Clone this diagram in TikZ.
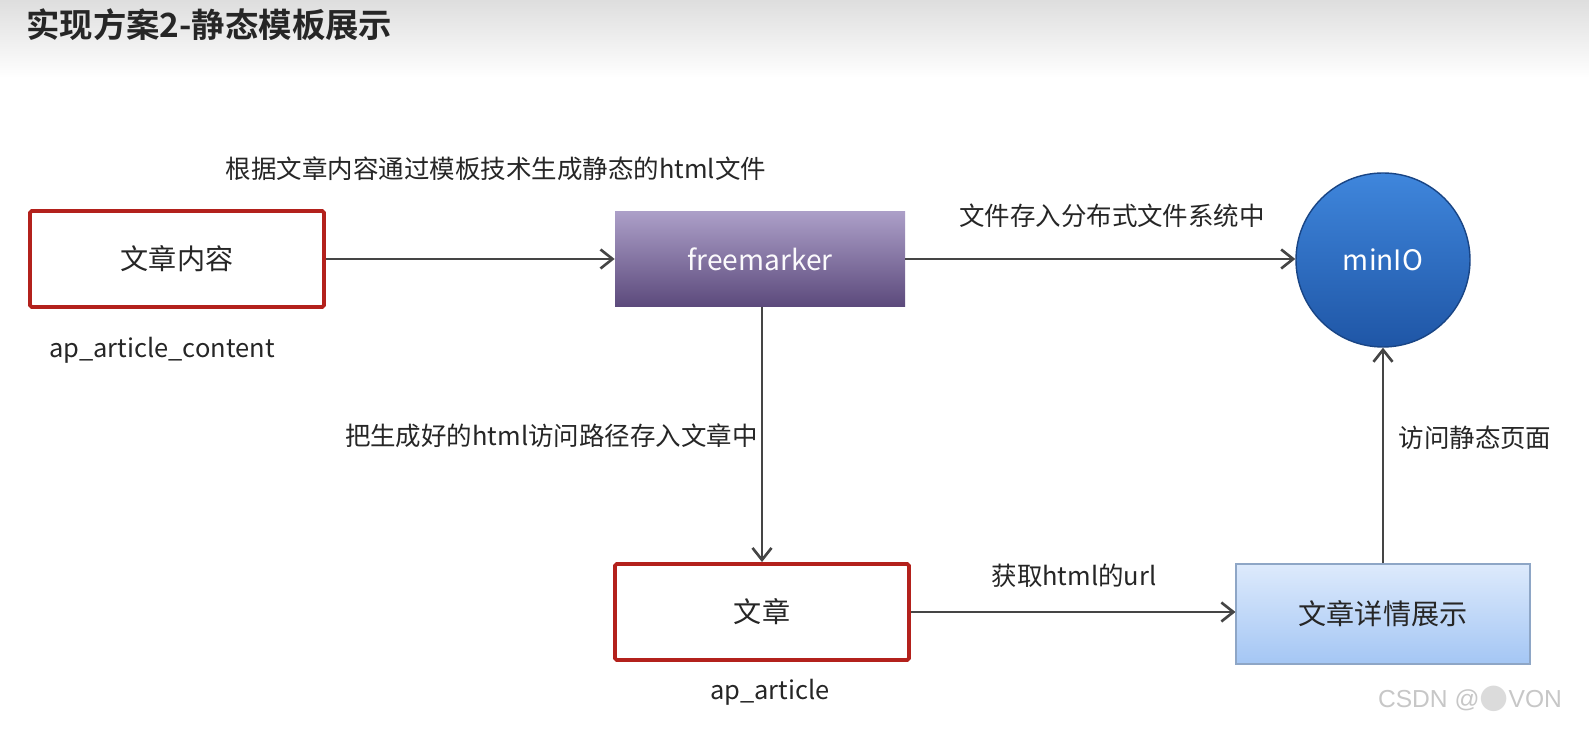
\documentclass[tikz,border=0pt]{standalone}
\usepackage{fontspec}
\setmainfont{Noto Sans CJK SC}[BoldFont={Noto Sans CJK SC Bold}]
\newfontfamily\markfont{Liberation Sans}
\newfontfamily\dotfont{DejaVu Sans}
\usetikzlibrary{arrows.meta}
\definecolor{BoxRed}{HTML}{B3211C}
\definecolor{LineGray}{HTML}{454545}
\definecolor{TextGray}{HTML}{262626}
\definecolor{MarkerTop}{HTML}{AC9FC8}
\definecolor{MarkerBottom}{HTML}{5C4A7C}
\definecolor{MinioTop}{HTML}{3F86DC}
\definecolor{MinioBottom}{HTML}{1F56A6}
\definecolor{ShowTop}{HTML}{DDEAFC}
\definecolor{ShowBottom}{HTML}{A4C6F4}
\definecolor{ShowEdge}{HTML}{8EA6C6}

\tikzset{
  tablebox/.style={draw=BoxRed, line width=2.2pt, rounded corners=1pt, fill=white,
    minimum width=58.8mm, minimum height=19.2mm, inner sep=0pt,
    font=\fontsize{16}{18}\selectfont, text=TextGray},
  flow/.style={draw=LineGray, line width=1.5pt, -{Straight Barb[length=2.4mm,width=3.8mm]}},
  note/.style={font=\fontsize{14.5}{17}\selectfont, text=TextGray, inner sep=0pt}
}

\begin{document}
\begin{tikzpicture}[x=0.2mm, y=-0.2mm]
  \useasboundingbox (0,0) rectangle (1589,729);
  \fill[white] (0,0) rectangle (1589,729);
  \shade[top color=black!13, bottom color=white] (0,0) rectangle (1589,78);
  \node[anchor=west, inner sep=0pt, font=\fontsize{19}{22}\selectfont\bfseries, text=TextGray]
    (title) at (26,25) {实现方案2-静态模板展示};

  % nodes
  \node[tablebox] (content) at (177,259) {文章内容};
  \node[note] (contentname) at (162,350) {ap\_article\_content};
  \node[minimum width=58mm, minimum height=19mm, inner sep=0pt,
        top color=MarkerTop, bottom color=MarkerBottom, text=white!95!MarkerTop,
        font=\fontsize{16}{18}\selectfont] (marker) at (760,259) {freemarker};
  \node[circle, minimum size=34.8mm, inner sep=0pt, top color=MinioTop, bottom color=MinioBottom,
        draw=MinioBottom!80!black, line width=0.8pt, text=white,
        font=\fontsize{16}{18}\selectfont] (minio) at (1383,260) {minIO};
  \node[tablebox] (article) at (762,612) {文章};
  \node[note] (articlename) at (770,692) {ap\_article};
  \node[minimum width=58.8mm, minimum height=20mm, inner sep=0pt, draw=ShowEdge, line width=0.6pt,
        top color=ShowTop, bottom color=ShowBottom, text=TextGray,
        font=\fontsize{16}{18}\selectfont] (show) at (1383,614) {文章详情展示};

  % connectors
  \draw[flow] (content) -- (marker);
  \draw[flow] (marker.east) -- (marker.east -| minio.west);
  \draw[flow] (marker.south -| article.north) -- (article.north);
  \draw[flow] (article.east) -- (article.east -| show.west);
  \draw[flow] (show) -- (minio);

  % labels
  \node[note] (genlabel) at (496,169) {根据文章内容通过模板技术生成静态的html文件};
  \node[note] (storelabel) at (1112,216) {文件存入分布式文件系统中};
  \node[note, anchor=east] (pathlabel) at (758,436) {把生成好的html访问路径存入文章中};
  \node[note] (urllabel) at (1074,576) {获取html的url};
  \node[note] (visitlabel) at (1475,438) {访问静态页面};

  \node[font=\markfont\fontsize{14}{16}\selectfont, text=black!22, inner sep=0pt]
    (mark) at (1470,699) {CSDN @{\dotfont\fontsize{19}{16}\selectfont\textcolor{black!14}{●}}VON};
\end{tikzpicture}
\end{document}
